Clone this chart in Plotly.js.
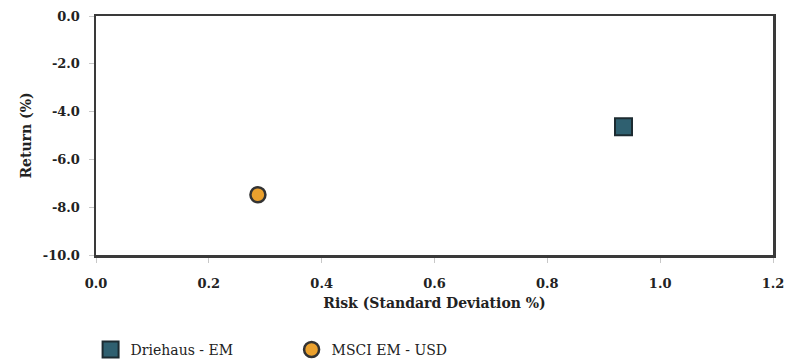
<!DOCTYPE html>
<html>
<head>
<meta charset="utf-8">
<script src="https://cdn.plot.ly/plotly-3.0.1.min.js"></script>
<style>html,body{margin:0;padding:0;background:#fff;}#chart{width:798px;height:363px;}</style>
</head>
<body>
<div id="chart"></div>
<script>
// Data
const seriesNames = ["Driehaus - EM", "MSCI EM - USD"];
const riskValues = [0.935, 0.287];     // Risk (Standard Deviation %)
const returnValues = [-4.63, -7.48];   // Return (%)
const xTickVals = [0.0, 0.2, 0.4, 0.6, 0.8, 1.0, 1.2];
const xTickText = ["0.0", "0.2", "0.4", "0.6", "0.8", "1.0", "1.2"];
const yTickVals = [0, -2, -4, -6, -8, -10];
const yTickText = ["0.0", "-2.0", "-4.0", "-6.0", "-8.0", "-10.0"];

const markerStyles = [
  {symbol: "square", size: 17, color: "#2f6070", line: {color: "#1c2b31", width: 2}},
  {symbol: "circle", size: 15, color: "#eba12e", line: {color: "#333333", width: 2.5}}
];

const traces = seriesNames.map((name, i) => ({
  type: "scatter",
  mode: "markers",
  name: name,
  x: [riskValues[i]],
  y: [returnValues[i]],
  marker: markerStyles[i]
}));

const serif = "DejaVu Serif";
const layout = {
  width: 798, height: 363,
  margin: {l: 96, r: 25, t: 16, b: 108, autoexpand: false},
  paper_bgcolor: "#ffffff", plot_bgcolor: "#ffffff",
  showlegend: true,
  font: {family: serif, color: "#222"},
  xaxis: {
    range: [0, 1.2], tickvals: xTickVals, ticktext: xTickText,
    showgrid: false, zeroline: false, automargin: false,
    showline: true, mirror: true, linecolor: "#3a3a3a", linewidth: 2.5,
    ticks: "outside", ticklen: 5, tickcolor: "#c8c8c8", tickwidth: 1,
    ticklabelstandoff: 10,
    tickfont: {family: serif, size: 13, color: "#222", weight: "bold"},
    title: {text: "Risk (Standard Deviation %)", font: {family: serif, size: 14, color: "#222", weight: "bold"}, standoff: 8}
  },
  yaxis: {
    range: [-10, 0], tickvals: yTickVals, ticktext: yTickText,
    showgrid: false, zeroline: false, automargin: false,
    showline: true, mirror: true, linecolor: "#3a3a3a", linewidth: 2.5,
    ticks: "outside", ticklen: 5, tickcolor: "#c8c8c8", tickwidth: 1,
    ticklabelstandoff: 6,
    tickfont: {family: serif, size: 13, color: "#222", weight: "bold"},
    title: {text: "Return (%)", font: {family: serif, size: 14, color: "#222", weight: "bold"}, standoff: 8}
  },
  legend: {
    orientation: "h", x: -0.008, xanchor: "left", y: -0.33, yanchor: "top",
    font: {family: serif, size: 14, color: "#222"},
    itemsizing: "trace", traceorder: "normal", entrywidth: 156
  }
};

Plotly.newPlot("chart", traces, layout, {displayModeBar: false, staticPlot: true});
</script>
</body>
</html>
